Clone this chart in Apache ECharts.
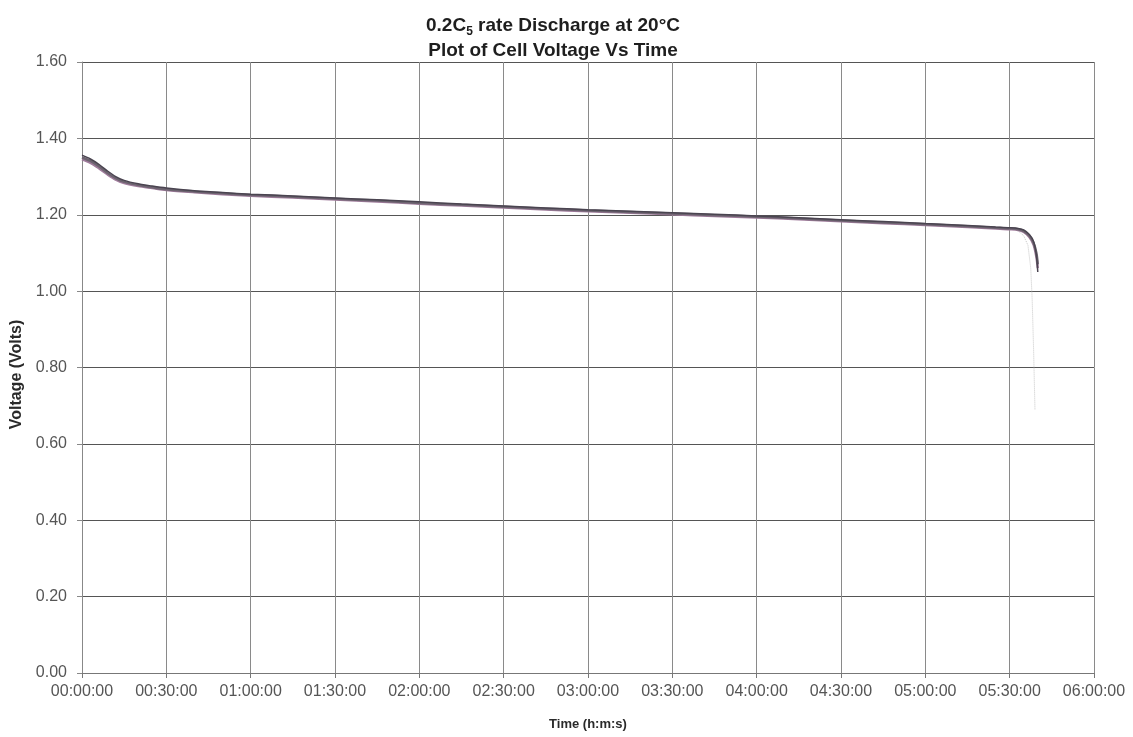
<!DOCTYPE html>
<html>
<head>
<meta charset="utf-8">
<script src="https://cdn.jsdelivr.net/npm/echarts@6/dist/echarts.min.js"></script>
<style>
html,body{margin:0;padding:0;background:#fff;}
#c{width:1133px;height:737px;}
</style>
</head>
<body>
<div id="c"></div>
<script>
// Time in minutes, voltage in volts
var timesA = [0, 3, 6, 9, 12, 15, 20, 25, 30, 40, 50, 60, 75, 90, 105, 120, 135, 150, 165, 180, 195, 210, 225, 240, 255, 270, 285, 300, 315, 325, 330, 333, 335, 337, 338.5, 339.5, 340];
var cellA  = [1.356, 1.346, 1.332, 1.315, 1.300, 1.290, 1.281, 1.275, 1.270, 1.263, 1.258, 1.254, 1.249, 1.244, 1.239, 1.234, 1.228, 1.223, 1.218, 1.213, 1.209, 1.205, 1.201, 1.197, 1.192, 1.187, 1.182, 1.177, 1.172, 1.168, 1.166, 1.164, 1.160, 1.148, 1.130, 1.095, 1.050];
var cellB  = [1.345, 1.336, 1.322, 1.306, 1.292, 1.283, 1.275, 1.270, 1.265, 1.259, 1.254, 1.250, 1.245, 1.240, 1.235, 1.229, 1.224, 1.219, 1.214, 1.209, 1.205, 1.201, 1.197, 1.193, 1.188, 1.183, 1.178, 1.173, 1.168, 1.164, 1.162, 1.160, 1.155, 1.142, 1.122, 1.090, 1.060];
var cellC  = [1.350, 1.341, 1.327, 1.310, 1.296, 1.286, 1.278, 1.272, 1.267, 1.261, 1.256, 1.252, 1.247, 1.242, 1.237, 1.231, 1.226, 1.221, 1.216, 1.211, 1.207, 1.203, 1.199, 1.195, 1.190, 1.185, 1.180, 1.175, 1.170, 1.166, 1.164, 1.162, 1.157, 1.145, 1.126, 1.100, 1.070];
var timesD = [325, 330, 333, 335, 336.5, 337.5, 338, 338.5, 339];
var cellD  = [1.166, 1.163, 1.158, 1.145, 1.120, 1.060, 0.980, 0.850, 0.690];
var yTicks = ['0.00','0.20','0.40','0.60','0.80','1.00','1.20','1.40','1.60'];

function pairs(t, v){ return t.map(function(x,i){ return [x, v[i]]; }); }
function pad(n){ return (n<10?'0':'')+n; }
function hms(m){ var h=Math.floor(m/60), mm=Math.round(m%60); return pad(h)+':'+pad(mm)+':00'; }

var chart = echarts.init(document.getElementById('c'), null, {renderer:'canvas'});
var font = 'Liberation Sans, Arial, sans-serif';
chart.setOption({
  backgroundColor:'#fff',
  animation:false,
  title:{
    text:'{t|0.2C}{s|5}{t| rate Discharge at 20°C}\n{t|Plot of Cell Voltage Vs Time}',
    left:548, top:8,
    textAlign:'center',
    textStyle:{
      rich:{
        t:{fontFamily:font,fontSize:19,fontWeight:'bold',color:'#1e1e1e',lineHeight:25},
        s:{fontFamily:font,fontSize:12,fontWeight:'bold',color:'#1e1e1e',verticalAlign:'bottom',padding:[8,0,0,0],lineHeight:25}
      }
    }
  },
  grid:{left:82,right:39,top:62,bottom:64,show:false},
  xAxis:{
    type:'value', min:0, max:360, interval:30,
    name:'Time (h:m:s)', nameLocation:'middle', nameGap:45,
    nameTextStyle:{fontFamily:font,fontSize:13,fontWeight:'bold',color:'#2a2a2a'},
    axisLine:{show:true,lineStyle:{color:'#777',width:1}},
    axisTick:{show:true,length:5,inside:false,lineStyle:{color:'#777'}},
    axisLabel:{fontFamily:font,fontSize:16,color:'#555',margin:11,formatter:function(v){return hms(v);}},
    splitLine:{show:true,lineStyle:{color:'#8a8a8a',width:1}}
  },
  yAxis:{
    type:'value', min:0, max:1.6, interval:0.2,
    name:'Voltage (Volts)', nameLocation:'middle', nameGap:56, nameRotate:90,
    nameTextStyle:{fontFamily:font,fontSize:16,fontWeight:'bold',color:'#2a2a2a',padding:[0,0,0,-14]},
    axisLine:{show:true,lineStyle:{color:'#888',width:1}},
    axisTick:{show:true,length:5,lineStyle:{color:'#888'}},
    axisLabel:{fontFamily:font,fontSize:16,color:'#555',margin:15,formatter:function(v){return yTicks[Math.round(v/0.2)];}},
    splitLine:{show:true,lineStyle:{color:'#555',width:1}}
  },
  series:[
    {type:'line',data:pairs(timesD,cellD),showSymbol:false,lineStyle:{color:'#c8c8c8',width:1,type:'dotted'},z:1},
    {type:'line',data:pairs(timesA,cellB),showSymbol:false,smooth:0.3,lineStyle:{color:'#a07c9c',width:2.5},z:2},
    {type:'line',data:pairs(timesA,cellC),showSymbol:false,smooth:0.3,lineStyle:{color:'#6d6470',width:2.5},z:3},
    {type:'line',data:pairs(timesA,cellA),showSymbol:false,smooth:0.3,lineStyle:{color:'#4a4450',width:1.5},z:4}
  ]
});
</script>
</body>
</html>
